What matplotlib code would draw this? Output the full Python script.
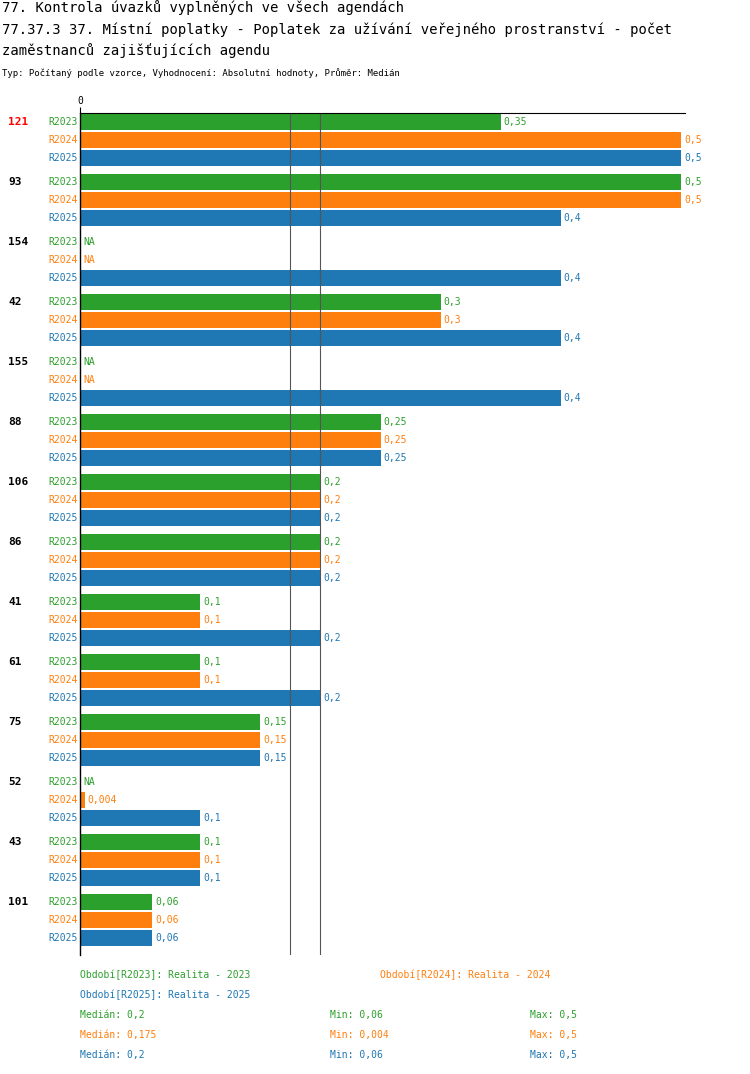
import matplotlib.pyplot as plt

groups = ["121", "93", "154", "42", "155", "88", "106", "86", "41", "61", "75", "52", "43", "101"]
r2023 = [0.35, 0.5, None, 0.3, None, 0.25, 0.2, 0.2, 0.1, 0.1, 0.15, None, 0.1, 0.06]
r2024 = [0.5, 0.5, None, 0.3, None, 0.25, 0.2, 0.2, 0.1, 0.1, 0.15, 0.004, 0.1, 0.06]
r2025 = [0.5, 0.4, 0.4, 0.4, 0.4, 0.25, 0.2, 0.2, 0.2, 0.2, 0.15, 0.1, 0.1, 0.06]
series_names = ["R2023", "R2024", "R2025"]
colors = ["#2ca02c", "#ff7f0e", "#1f77b4"]
medians = [0.2, 0.175, 0.2]
mins = [0.06, 0.004, 0.06]
maxs = [0.5, 0.5, 0.5]

plt.rcParams['font.family'] = ['DejaVu Sans Mono']
W, H = 750, 1074
fig = plt.figure(figsize=(W / 100, H / 100), dpi=100)

def fmt(v):
    return ("%g" % v).replace(".", ",")

# title block
fig.text(2 / W, 1 - 8 / H, "77. Kontrola úvazků vyplněných ve všech agendách", fontsize=10, va="center")
fig.text(2 / W, 1 - 30 / H, "77.37.3 37. Místní poplatky - Poplatek za užívání veřejného prostranství - počet",
         fontsize=10, va="center")
fig.text(2 / W, 1 - 51 / H, "zaměstnanců zajišťujících agendu", fontsize=10, va="center")
fig.text(2 / W, 1 - 73 / H, "Typ: Počítaný podle vzorce, Vyhodnocení: Absolutní hodnoty, Průměr: Medián",
         fontsize=6.5, va="center")

left, right, top, bottom = 80, 685, 113, 955
ax = fig.add_axes([left / W, 1 - bottom / H, (right - left) / W, (bottom - top) / H])
xmax = 0.5 * (right - left) / 601
ax.set_xlim(0, xmax)
ax.set_ylim(bottom, top)
for s in ["right", "bottom"]:
    ax.spines[s].set_visible(False)
ax.spines["left"].set_linewidth(1)
ax.spines["top"].set_linewidth(0.8)
ax.set_yticks([])
ax.xaxis.tick_top()
ax.set_xticks([0])
ax.set_xticklabels(["0"], fontsize=7)
ax.tick_params(axis="x", length=4, pad=1)

for m in sorted(set(medians)):
    ax.axvline(m, color="#555555", lw=0.8)

series = [r2023, r2024, r2025]
for gi, g in enumerate(groups):
    y0 = 122 + gi * 60
    ax.text(-0.1225 * 0.5 / 0.5 * 0.5 / 0.5 * 1.0 if False else -72 / 1202, y0, g, fontsize=8, fontweight="bold",
            color="red" if g == "121" else "black", va="center", ha="left")
    for si in range(3):
        y = y0 + si * 18
        v = series[si][gi]
        ax.text(-2 / 1202, y, series_names[si], color=colors[si], fontsize=7, va="center", ha="right")
        if v is None:
            ax.text(3 / 1202, y, "NA", color=colors[si], fontsize=7, va="center")
        else:
            ax.barh(y, v, height=16, color=colors[si])
            ax.text(v + 3 / 1202, y, fmt(v), color=colors[si], fontsize=7, va="center")

# legend / stats
fs = 7
fig.text(80 / W, 1 - 975 / H, "Období[R2023]: Realita - 2023", color=colors[0], fontsize=fs, va="center")
fig.text(380 / W, 1 - 975 / H, "Období[R2024]: Realita - 2024", color=colors[1], fontsize=fs, va="center")
fig.text(80 / W, 1 - 995 / H, "Období[R2025]: Realita - 2025", color=colors[2], fontsize=fs, va="center")
for i in range(3):
    yy = 1 - (1015 + 20 * i) / H
    fig.text(80 / W, yy, "Medián: " + fmt(medians[i]), color=colors[i], fontsize=fs, va="center")
    fig.text(330 / W, yy, "Min: " + fmt(mins[i]), color=colors[i], fontsize=fs, va="center")
    fig.text(530 / W, yy, "Max: " + fmt(maxs[i]), color=colors[i], fontsize=fs, va="center")

fig.savefig("out.png", dpi=100)
